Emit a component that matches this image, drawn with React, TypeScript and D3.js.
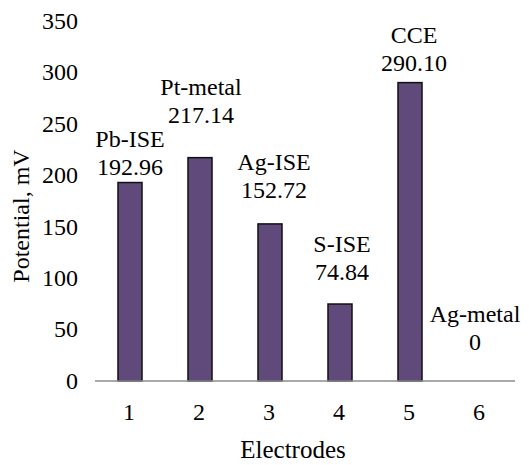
import React from "react";
import * as d3 from "d3";

const categories = ["1", "2", "3", "4", "5", "6"];
const values = [192.96, 217.14, 152.72, 74.84, 290.1, 0];
const names = ["Pb-ISE", "Pt-metal", "Ag-ISE", "S-ISE", "CCE", "Ag-metal"];
const valueLabels = ["192.96", "217.14", "152.72", "74.84", "290.10", "0"];
const yTicks = [0, 50, 100, 150, 200, 250, 300, 350];

const W = 529;
const H = 465;
const F = "Liberation Serif";

// label layout: gap above bar top, horizontal nudge
const labelGap = [8, 35, 26, 24, 12, 31];
const labelDx = [0, 1, 4, 2, 4, -5];

function T(props: any) {
  const { size = 24, children, ...rest } = props;
  return (
    <text {...rest} fontFamily={F} fontSize={size} style={{ fontFamily: F, fontSize: size }}>
      {children}
    </text>
  );
}

export default function App() {
  const x = d3
    .scaleBand<string>()
    .domain(categories)
    .range([95, 515])
    .paddingInner(0.657)
    .paddingOuter(0.3285);
  const y = d3.scaleLinear().domain([0, 350]).range([381, 21]);

  return (
    <div style={{ position: "absolute", left: 0, top: 0, width: W, height: H, background: "#fff" }}>
      <svg width={W} height={H}>
        {yTicks.map((t) => (
          <T key={t} x={78} y={y(t)} dy="0.33em" textAnchor="end" fill="#000">
            {t}
          </T>
        ))}
        {values.map((v, i) => (
          <rect
            key={i}
            x={x(categories[i])}
            y={y(v)}
            width={x.bandwidth()}
            height={y(0) - y(v)}
            fill="#5F4A7B"
            stroke="#111"
            strokeWidth={1.5}
          />
        ))}
        <line x1={95} x2={515} y1={y(0)} y2={y(0)} stroke="#8c8c8c" strokeWidth={1.5} />
        {categories.map((c) => (
          <T key={c} x={(x(c) as number) + x.bandwidth() / 2 - 1} y={420} textAnchor="middle">
            {c}
          </T>
        ))}
        {values.map((v, i) => {
          const cx = (x(categories[i]) as number) + x.bandwidth() / 2 + labelDx[i];
          const base = y(v) - labelGap[i];
          return (
            <g key={"l" + i}>
              <T x={cx} y={base - 28} textAnchor="middle">
                {names[i]}
              </T>
              <T x={cx} y={base} textAnchor="middle">
                {valueLabels[i]}
              </T>
            </g>
          );
        })}
        <T x={293} y={458} textAnchor="middle" size={25}>
          Electrodes
        </T>
        <T transform={`translate(29, 216) rotate(-90)`} textAnchor="middle">
          Potential, mV
        </T>
      </svg>
    </div>
  );
}
